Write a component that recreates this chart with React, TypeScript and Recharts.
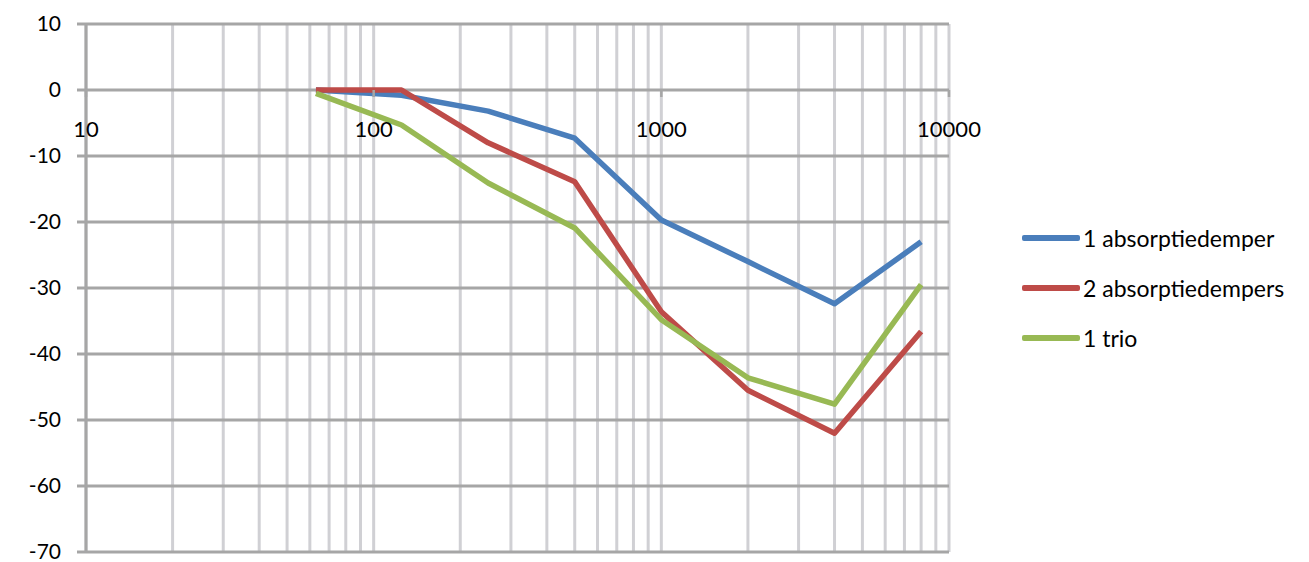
import React from "react";
import { LineChart, Line, XAxis, YAxis, CartesianGrid } from "recharts";

// octave band centre frequencies (Hz) and level reduction (dB)
const FREQS = [63, 125, 250, 500, 1000, 2000, 4000, 8000];
const ONE_ABSORBER = [0, -0.8, -3.2, -7.3, -19.7, -26, -32.4, -23];
const TWO_ABSORBERS = [0, 0, -8, -13.9, -33.6, -45.5, -52, -36.6];
const ONE_TRIO = [-0.5, -5.3, -14.1, -20.9, -34.8, -43.6, -47.6, -29.5];

const X_TICKS = [10, 100, 1000, 10000];
const Y_TICKS = [-70, -60, -50, -40, -30, -20, -10, 0, 10];

const SERIES = [
  { key: "one", name: "1 absorptiedemper", color: "#4a7ebb", values: ONE_ABSORBER },
  { key: "two", name: "2 absorptiedempers", color: "#be4b48", values: TWO_ABSORBERS },
  { key: "trio", name: "1 trio", color: "#98b954", values: ONE_TRIO },
];

const data = FREQS.map((f, i) => ({
  f,
  one: ONE_ABSORBER[i],
  two: TWO_ABSORBERS[i],
  trio: ONE_TRIO[i],
}));

// all decade multiples 10..10000 for the log grid
const LOG_GRID: number[] = [];
for (let d = 10; d < 10000; d *= 10) {
  for (let m = 1; m < 10; m++) LOG_GRID.push(d * m);
}
LOG_GRID.push(10000);

const FONT = "Lato, 'Open Sans', sans-serif";
const W = 1309;
const H = 562;
const MARGIN = { top: 24, right: 360, bottom: 0, left: 0 };
const Y_AXIS_W = 86;
const X_AXIS_H = 10;
const PLOT_TOP = MARGIN.top;
const PLOT_H = H - MARGIN.top - MARGIN.bottom - X_AXIS_H;
// the x axis crosses at y = 0 (domain -70..10)
const ZERO_Y = PLOT_TOP + PLOT_H * (10 / 80);

const XTick = (props: any) => {
  const { x, payload } = props;
  return (
    <g>
      <line x1={x} x2={x} y1={ZERO_Y} y2={ZERO_Y + 7} stroke="#a6a6a6" strokeWidth={2.5} />
      <text
        x={x}
        y={ZERO_Y + 38}
        textAnchor="middle"
        dominantBaseline="central"
        fontFamily={FONT}
        fontSize={22}
        fill="#000"
      >
        {payload.value}
      </text>
    </g>
  );
};

// vertical grid on every 1..9 multiple of each decade
const verticalGen = ({ xAxis, offset }: any) => {
  const s = xAxis && xAxis.scale;
  if (typeof s === "function") return LOG_GRID.map((v) => s(v));
  if (s && typeof s.map === "function") return LOG_GRID.map((v) => s.map(v));
  const lo = Math.log10(10);
  const hi = Math.log10(10000);
  return LOG_GRID.map((v) => offset.left + ((Math.log10(v) - lo) / (hi - lo)) * offset.width);
};

export default function App() {
  return (
    <div style={{ position: "absolute", left: 0, top: 0, width: W, height: H, background: "#fff" }}>
      <LineChart width={W} height={H} data={data} margin={MARGIN}>
        <CartesianGrid
          horizontal={false}
          vertical
          verticalCoordinatesGenerator={verticalGen}
          stroke="#d0d0d4"
          strokeWidth={3}
        />
        <CartesianGrid vertical={false} horizontal stroke="#a6a6a6" strokeWidth={3} />
        <XAxis
          type="number"
          dataKey="f"
          scale="log"
          domain={[10, 10000]}
          ticks={X_TICKS}
          allowDataOverflow
          height={X_AXIS_H}
          axisLine={false}
          tickLine={false}
          tick={<XTick />}
          interval={0}
        />
        <YAxis
          type="number"
          domain={[-70, 10]}
          ticks={Y_TICKS}
          width={Y_AXIS_W}
          interval={0}
          axisLine={{ stroke: "#a6a6a6", strokeWidth: 3 }}
          tickLine={{ stroke: "#a6a6a6", strokeWidth: 3 }}
          tickSize={9}
          tickMargin={16}
          tick={{ fontFamily: FONT, fontSize: 21, fill: "#000" }}
        />
        {SERIES.map((s) => (
          <Line
            key={s.key}
            dataKey={s.key}
            name={s.name}
            stroke={s.color}
            strokeWidth={5.5}
            dot={false}
            activeDot={false}
            strokeLinejoin="round"
            isAnimationActive={false}
          />
        ))}
      </LineChart>
      <div style={{ position: "absolute", left: 1022, top: 213, fontFamily: FONT, fontSize: 23, color: "#000" }}>
        {SERIES.map((s) => (
          <div key={s.key} style={{ display: "flex", alignItems: "center", height: 50 }}>
            <span style={{ display: "inline-block", width: 58, height: 6, background: s.color, borderRadius: 2, marginRight: 3 }} />
            <span>{s.name}</span>
          </div>
        ))}
      </div>
    </div>
  );
}
